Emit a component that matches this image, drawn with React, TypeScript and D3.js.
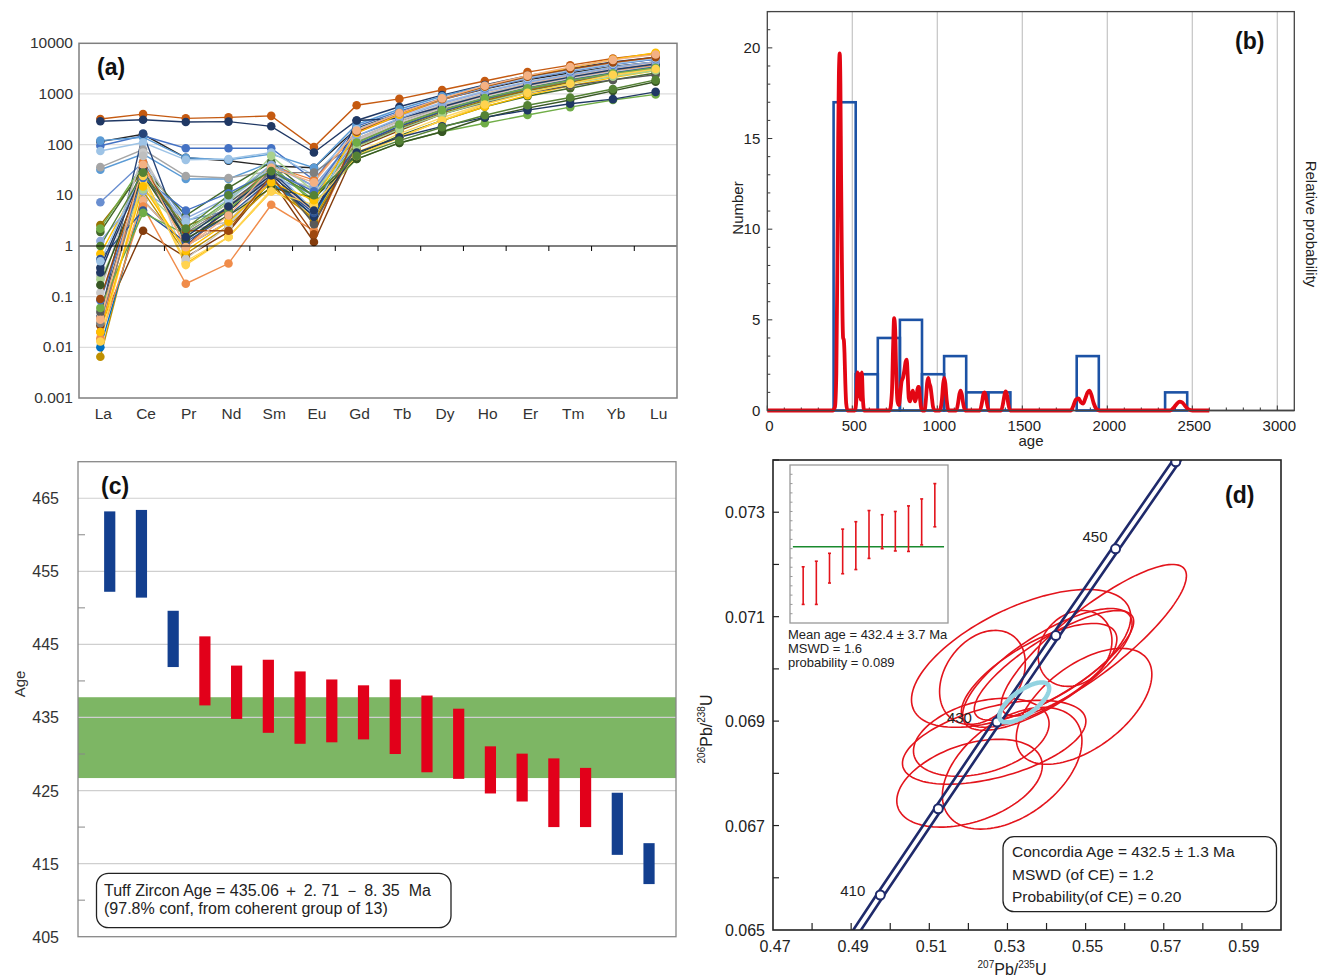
import React from 'react';
import * as d3 from 'd3';

const FONT = 'Arial, "Liberation Sans", Helvetica, sans-serif';

// ---------- (a) chondrite-normalised REE ----------
const elements = ['La', 'Ce', 'Pr', 'Nd', 'Sm', 'Eu', 'Gd', 'Tb', 'Dy', 'Ho', 'Er', 'Tm', 'Yb', 'Lu'];
const reeTicks = [10000, 1000, 100, 10, 1, 0.1, 0.01, 0.001];
const reeTickLabels = ['10000', '1000', '100', '10', '1', '0.1', '0.01', '0.001'];
const reeColors = [
  '#C55A11', '#203864', '#262626', '#4472C4', '#5B9BD5', '#9DC3E6', '#5B9BD5', '#A5A5A5',
  '#698ED0', '#264478', '#843C0C', '#997300', '#43682B', '#70AD47', '#FFC000', '#FFD966',
  '#BF9000', '#0070C0', '#F4B183', '#ED7D31', '#F08C4A', '#C9C9C9', '#BFBFBF', '#595959',
  '#7F7F7F', '#1F3864', '#2F5597', '#8FAADC', '#A9D18E', '#70AD47', '#375623', '#4472C4',
  '#9DC3E6', '#FFD34F', '#FFC000', '#9E480E', '#203864', '#F4B183', '#548235',
];
const reeSeries = [
  [320, 400, 330, 345, 370, 90, 600, 800, 1200, 1800, 2700, 3700, 5000, 6300],
  [290, 310, 280, 285, 230, 70, 300, 560, 950, 1500, 2300, 3200, 4300, 5300],
  [115, 160, 55, 48, 38, 35, 210, 420, 780, 1250, 1900, 2600, 3500, 4300],
  [95, 150, 85, 85, 85, 20, 230, 460, 820, 1350, 2050, 2900, 3900, 4900],
  [120, 140, 55, 50, 65, 35, 250, 500, 900, 1450, 2150, 3000, 4000, 4900],
  [75, 110, 50, 52, 70, 25, 180, 360, 680, 1150, 1750, 2450, 3400, 4300],
  [32, 65, 21, 21, 45, 15, 150, 310, 580, 980, 1550, 2150, 3000, 3800],
  [36, 80, 24, 22, 30, 12, 130, 290, 540, 930, 1450, 2050, 2800, 3600],
  [7.3, 45, 3.2, 5, 25, 10, 120, 260, 500, 850, 1350, 1900, 2600, 3400],
  [0.04, 165, 1.0, 6, 30, 5, 100, 230, 460, 780, 1250, 1750, 2450, 3200],
  [0.027, 2.0, 0.6, 1.9, 20, 1.2, 85, 190, 400, 720, 1150, 1650, 2350, 3050],
  [2.6, 30, 2.5, 5, 22, 3, 95, 210, 420, 740, 1200, 1700, 2400, 3150],
  [1.9, 35, 4, 14, 45, 9.5, 65, 150, 300, 560, 900, 1300, 1900, 2600],
  [2.2, 40, 2, 8, 40, 7, 52, 108, 180, 265, 385, 550, 760, 980],
  [0.7, 25, 0.45, 1.5, 12, 6, 60, 140, 300, 560, 950, 1450, 2100, 2900],
  [0.014, 20, 0.5, 1.5, 13, 4, 70, 165, 340, 640, 1050, 1600, 2300, 3050],
  [0.0065, 12, 0.7, 2.5, 15, 3.5, 90, 220, 450, 800, 1300, 1900, 2700, 3600],
  [0.01, 8, 1.0, 3, 18, 4, 110, 250, 500, 860, 1350, 1950, 2700, 3500],
  [0.038, 8, 1, 3, 20, 5, 130, 300, 600, 1020, 1600, 2300, 3250, 4200],
  [0.02, 45, 0.95, 5.5, 38, 20, 170, 380, 760, 1300, 2000, 2900, 4000, 5200],
  [0.015, 6, 0.18, 0.45, 6.5, 2, 120, 260, 520, 900, 1400, 2000, 2800, 3600],
  [0.12, 70, 0.55, 2.5, 25, 14, 120, 270, 520, 880, 1400, 2000, 2750, 3500],
  [0.26, 60, 2, 3, 25, 14, 130, 300, 600, 1000, 1550, 2200, 3050, 3900],
  [0.05, 30, 2, 7, 30, 2.7, 95, 210, 400, 680, 1050, 1450, 1900, 2400],
  [0.03, 25, 1.8, 6, 28, 28, 110, 250, 480, 800, 1250, 1800, 2500, 3200],
  [0.37, 35, 1.3, 5, 22, 3.8, 300, 330, 560, 950, 1500, 2150, 3000, 3900],
  [0.55, 5, 1.2, 4, 20, 4.5, 100, 230, 450, 800, 1300, 1900, 2600, 3400],
  [1.25, 12, 3.5, 9, 40, 15, 150, 330, 650, 1100, 1700, 2400, 3300, 4300],
  [0.22, 13, 2, 7, 60, 12, 90, 200, 400, 700, 1100, 1600, 2200, 2900],
  [0.06, 4.5, 1.7, 5, 35, 8, 110, 250, 480, 830, 1300, 1850, 2550, 3300],
  [0.17, 25, 1.4, 4, 14, 9, 52, 108, 180, 340, 525, 760, 1150, 1740],
  [0.085, 22, 5, 11, 30, 12, 180, 400, 780, 1300, 2000, 2800, 3800, 4900],
  [0.5, 30, 3, 8, 35, 5, 200, 420, 800, 1350, 2050, 2900, 3900, 5000],
  [0.013, 24, 0.42, 1.5, 12, 6.5, 60, 140, 300, 620, 1050, 1600, 2400, 3100],
  [0.02, 15, 0.8, 3, 18, 8, 170, 390, 800, 1400, 2250, 3300, 4800, 6500],
  [0.09, 35, 2, 2, 25, 1.7, 180, 420, 800, 1400, 2200, 3100, 4200, 5300],
  [0.3, 30, 1.5, 6, 25, 5, 70, 140, 230, 345, 480, 640, 790, 1100],
  [0.035, 40, 0.95, 4, 35, 18, 190, 420, 820, 1450, 2300, 3400, 4700, 6000],
  [1.0, 28, 2.2, 10, 30, 10, 60, 120, 220, 380, 600, 850, 1250, 1900],
];

// ---------- (b) detrital age histogram + PDP ----------
const binStart = [390, 520, 650, 780, 910, 1040, 1170, 1300, 1820, 2340];
const binCount = [17, 2, 4, 5, 2, 3, 1, 1, 3, 1];
const binWidth = 130;
const ageTicks = [0, 500, 1000, 1500, 2000, 2500, 3000];
const numberTicks = [0, 5, 10, 15, 20];
const pdpPoints = [
  [0, 0], [385, 0], [398, 0.2], [406, 2], [412, 8], [417, 15], [421, 18.5], [426, 19.7], [430, 18],
  [434, 13], [438, 9], [442, 5.5], [446, 4.0], [450, 3.9], [454, 3.2], [459, 1.5], [464, 0.4], [472, 0],
  [515, 0], [524, 0.6], [531, 2.1], [537, 0.8], [543, 2.0], [549, 0.6], [556, 2.1], [562, 0.7], [570, 0],
  [720, 0], [733, 1.0], [740, 3.5], [746, 5.1], [752, 4.5], [758, 2.2], [766, 0.5], [774, 0.3], [782, 0.9],
  [790, 1.6], [798, 1.8], [806, 2.2], [814, 2.7], [820, 2.8], [826, 1.9], [832, 0.7], [840, 0.5], [848, 0.9],
  [856, 1.1], [862, 0.8], [870, 0.5], [878, 0.8], [886, 1.3], [892, 1.3], [898, 0.7], [904, 0.2], [912, 0],
  [925, 0], [933, 0.6], [940, 1.5], [947, 1.8], [953, 1.5], [960, 1.3], [967, 0.8], [975, 0.2], [985, 0],
  [1015, 0], [1027, 0.6], [1035, 1.5], [1041, 1.8], [1047, 1.5], [1055, 0.6], [1066, 0],
  [1112, 0], [1122, 0.4], [1130, 0.9], [1137, 1.1], [1144, 0.9], [1152, 0.4], [1163, 0],
  [1250, 0], [1262, 0.4], [1271, 0.9], [1277, 1.0], [1284, 0.85], [1292, 0.4], [1303, 0],
  [1375, 0], [1387, 0.4], [1396, 0.9], [1402, 1.05], [1409, 0.9], [1417, 0.4], [1428, 0],
  [1785, 0], [1800, 0.25], [1815, 0.6], [1831, 0.67], [1845, 0.45], [1857, 0.38], [1870, 0.65],
  [1884, 1.0], [1894, 1.09], [1905, 0.9], [1920, 0.4], [1935, 0.1], [1953, 0],
  [2370, 0], [2390, 0.15], [2410, 0.38], [2425, 0.49], [2440, 0.45], [2458, 0.25], [2478, 0.06],
  [2500, 0], [2600, 0],
];

// ---------- (c) weighted ages ----------
const spotLow = [452.2, 451.4, 441.9, 436.65, 434.8, 432.9, 431.4, 431.6, 432.0, 430.0, 427.5, 426.6, 424.6, 423.5, 420.0, 420.0, 416.2, 412.2];
const spotHigh = [463.2, 463.4, 449.6, 446.1, 442.1, 442.9, 441.3, 440.2, 439.4, 440.2, 438.0, 436.2, 431.05, 430.05, 429.4, 428.1, 424.7, 417.8];
const spotCoherent = [0, 0, 0, 1, 1, 1, 1, 1, 1, 1, 1, 1, 1, 1, 1, 1, 0, 0];
const tuffAge = 435.06;
const tuffPlus = 2.71;
const tuffMinus = 8.35;
const ageAxisTicks = [405, 415, 425, 435, 445, 455, 465];

// ---------- (d) concordia ----------
const concAge = [400, 410, 420, 430, 440, 450, 460, 470];
const concX = [0.48281, 0.49746, 0.5123, 0.52731, 0.54237, 0.55766, 0.57307, 0.58864];
const concY = [0.064015, 0.06567, 0.067322, 0.068983, 0.070638, 0.0723, 0.073965, 0.075633];
const concLabelled = [410, 430, 450];
const ellX = [0.5521, 0.5496, 0.5473, 0.5335, 0.5236, 0.5402, 0.5419, 0.5381, 0.5266, 0.5203, 0.5312, 0.5233];
const ellY = [0.07055, 0.069283, 0.070392, 0.070201, 0.069837, 0.06999, 0.070067, 0.069876, 0.068595, 0.067811, 0.068098, 0.06869];
const ellSx = [0.0237, 0.01735, 0.00944, 0.02806, 0.01097, 0.02168, 0.0204, 0.0199, 0.02347, 0.01862, 0.01786, 0.01735];
const ellSy = [0.00145, 0.00111, 0.000727, 0.00132, 0.0009, 0.001166, 0.00105, 0.000994, 0.000803, 0.000841, 0.001166, 0.000746];
const ellRho = [0.85, 0.55, 0.2, 0.6, 0.3, 0.75, 0.8, 0.7, 0.5, 0.4, 0.45, 0.35];
const concordiaEll = { x: 0.5343, y: 0.069359, sx: 0.00638, sy: 0.000382, rho: 0.7 };
const pbxTicks = [0.47, 0.49, 0.51, 0.53, 0.55, 0.57, 0.59];
const pbyTicks = [0.065, 0.067, 0.069, 0.071, 0.073];
const insetLow = [420.0, 420.0, 424.6, 426.6, 427.5, 429.9, 432.0, 431.5, 431.4, 432.8, 436.7];
const insetHigh = [428.1, 429.3, 431.0, 436.2, 437.8, 440.2, 439.3, 440.0, 441.2, 442.7, 446.0];
const meanAge = 432.4;

// ---------- layout ----------
const A = { l: 79, r: 677, t: 43.3, b: 398 };
const B = { l: 767.3, r: 1294.3, t: 11.6, b: 410.5 };
const C = { l: 78, r: 676, t: 461.7, b: 936.7 };
const D = { l: 773, r: 1281, t: 460, b: 930 };
const I = { l: 790, r: 948, t: 465, b: 623 };

const xA = d3.scaleBand().domain(elements).range([A.l, A.r]);
const yA = d3.scaleLog().domain([0.001, 10000]).range([A.b, A.t]);
const xB = d3.scaleLinear().domain([0, 3100]).range([B.l, B.r]);
const yB = d3.scaleLinear().domain([0, 22]).range([B.b, B.t]);
const xC = d3.scaleLinear().domain([0, 18.85]).range([C.l, C.r]);
const yC = d3.scaleLinear().domain([405, 470]).range([C.b, C.t]);
const xD = d3.scaleLinear().domain([0.47, 0.6]).range([D.l, D.r]);
const yD = d3.scaleLinear().domain([0.065, 0.074]).range([D.b, D.t]);
const xI = d3.scaleLinear().domain([0, 12]).range([I.l, I.r]);
const yI = d3.scaleLinear().domain([416, 450]).range([I.b, I.t]);

const ellipsePath = (cx: number, cy: number, sx: number, sy: number, rho: number) => {
  const pts: [number, number][] = d3.range(0, 2 * Math.PI, Math.PI / 60).map((t) => [
    xD(cx + sx * Math.cos(t)),
    yD(cy + sy * (rho * Math.cos(t) + Math.sqrt(1 - rho * rho) * Math.sin(t))),
  ]);
  return d3.line().curve(d3.curveLinearClosed)(pts) as string;
};

function PanelA() {
  const cx = (e: string) => (xA(e) as number) + xA.bandwidth() / 2;
  const line = d3.line<number>().x((_, i) => cx(elements[i])).y((v) => yA(v));
  return (
    <g fontFamily={FONT}>
      {reeTicks.slice(1, -1).filter((t) => t !== 1).map((t) => (
        <line key={t} x1={A.l} x2={A.r} y1={yA(t)} y2={yA(t)} stroke="#dcdcdc" strokeWidth={1.3} />
      ))}
      {reeSeries.map((s, i) => (
        <path key={'l' + i} d={line(s) as string} fill="none" stroke={reeColors[i]} strokeWidth={1.4} />
      ))}
      {reeSeries.map((s, i) => (
        <g key={'p' + i} fill={reeColors[i]}>
          {s.map((v, j) => <circle key={j} cx={cx(elements[j])} cy={yA(v)} r={4.3} />)}
        </g>
      ))}
      <line x1={A.l} x2={A.r} y1={yA(1)} y2={yA(1)} stroke="#000" strokeWidth={1.2} />
      {elements.slice(1).map((e) => (
        <line key={e} x1={xA(e)} x2={xA(e)} y1={yA(1)} y2={yA(1) + 5} stroke="#000" strokeWidth={1} />
      ))}
      <rect x={A.l} y={A.t} width={A.r - A.l} height={A.b - A.t} fill="none" stroke="#7f7f7f" strokeWidth={1.5} />
      {reeTicks.map((t, i) => (
        <text key={t} x={A.l - 6} y={yA(t) + 5} textAnchor="end" fontSize={15.5} fill="#333">{reeTickLabels[i]}</text>
      ))}
      {elements.map((e) => (
        <text key={e} x={cx(e) + 3} y={419} textAnchor="middle" fontSize={15.5} fill="#333">{e}</text>
      ))}
      <text x={97} y={75} fontSize={23} fontWeight="bold" fill="#111">(a)</text>
    </g>
  );
}

function PanelB() {
  const line = d3.line<number[]>().x((d) => xB(d[0])).y((d) => yB(d[1])).curve(d3.curveMonotoneX);
  return (
    <g fontFamily={FONT}>
      {ageTicks.slice(1).map((t) => (
        <line key={t} x1={xB(t)} x2={xB(t)} y1={B.t} y2={B.b} stroke="#c4c4c4" strokeWidth={1.2} />
      ))}
      {d3.range(0, 3100, 100).map((t) => (
        <line key={'mx' + t} x1={xB(t)} x2={xB(t)} y1={B.b} y2={B.b - (t % 500 === 0 ? 5 : 3)} stroke="#333" strokeWidth={1} />
      ))}
      {d3.range(0, 23, 1).map((t) => (
        <line key={'my' + t} x1={B.l} x2={B.l + (t % 5 === 0 ? 5 : 3)} y1={yB(t)} y2={yB(t)} stroke="#333" strokeWidth={1} />
      ))}
      <line x1={B.l} x2={B.r} y1={B.b} y2={B.b} stroke="#111" strokeWidth={1.3} />
      {binStart.map((s, i) => (
        <rect key={s} x={xB(s)} y={yB(binCount[i])} width={xB(s + binWidth) - xB(s)} height={yB(0) - yB(binCount[i])}
          fill="none" stroke="#1c52a5" strokeWidth={2.6} />
      ))}
      <path d={line(pdpPoints) as string} fill="none" stroke="#e30613" strokeWidth={3.8} strokeLinejoin="round" />
      <rect x={B.l} y={B.t} width={B.r - B.l} height={B.b - B.t} fill="none" stroke="#444" strokeWidth={1.3} />
      {numberTicks.map((t) => (
        <text key={t} x={B.l - 7} y={yB(t) + 5} textAnchor="end" fontSize={15} fill="#222">{t}</text>
      ))}
      {ageTicks.map((t) => (
        <text key={t} x={xB(t) + 2} y={431} textAnchor="middle" fontSize={15} fill="#222">{t}</text>
      ))}
      <text x={1031} y={446} textAnchor="middle" fontSize={15} fill="#222">age</text>
      <text transform="translate(743,208) rotate(-90)" textAnchor="middle" fontSize={15} fill="#222">Number</text>
      <text transform="translate(1306,224) rotate(90)" textAnchor="middle" fontSize={15} fill="#222">Relative probability</text>
      <text x={1235} y={49} fontSize={23} fontWeight="bold" fill="#111">(b)</text>
    </g>
  );
}

function PanelC() {
  return (
    <g fontFamily={FONT}>
      <rect x={C.l} y={yC(tuffAge + tuffPlus)} width={C.r - C.l} height={yC(tuffAge - tuffMinus) - yC(tuffAge + tuffPlus)} fill="#7db664" />
      {ageAxisTicks.slice(1).map((t) => (
        <line key={t} x1={C.l} x2={C.r} y1={yC(t)} y2={yC(t)} stroke="#cfcfcf" strokeWidth={1.2} />
      ))}
      {ageAxisTicks.slice(1).map((t) => (
        <line key={'m' + t} x1={C.l} x2={C.l + 7} y1={yC(t - 5)} y2={yC(t - 5)} stroke="#888" strokeWidth={1} />
      ))}
      {spotLow.map((lo, i) => (
        <rect key={i} x={xC(i + 1) - 5.6} y={yC(spotHigh[i])} width={11.2} height={yC(lo) - yC(spotHigh[i])}
          fill={spotCoherent[i] ? '#e2001a' : '#133f8f'} />
      ))}
      <rect x={C.l} y={C.t} width={C.r - C.l} height={C.b - C.t} fill="none" stroke="#888" strokeWidth={1.3} />
      {ageAxisTicks.map((t) => (
        <text key={t} x={59} y={yC(t) + 6} textAnchor="end" fontSize={16} fill="#333">{t}</text>
      ))}
      <text transform="translate(25,684) rotate(-90)" textAnchor="middle" fontSize={15} fill="#333">Age</text>
      <text x={101} y={494} fontSize={23} fontWeight="bold" fill="#111">(c)</text>
      <rect x={96.5} y={873.3} width={354.5} height={54.4} rx={12} fill="#fff" stroke="#222" strokeWidth={1.3} />
      <text x={104} y={896} fontSize={16} fill="#222" style={{ whiteSpace: 'pre' }}>
        {`Tuff Zircon Age = ${tuffAge} ＋ 2. 71 － 8. 35  Ma`}
      </text>
      <text x={104} y={914} fontSize={16} fill="#222">(97.8% conf, from coherent group of 13)</text>
    </g>
  );
}

function PanelD() {
  const conc = (dx: number) =>
    d3.line<number>().x((_, i) => xD(concX[i] + dx)).y((_, i) => yD(concY[i]))(concAge) as string;
  const labelOffset: Record<number, [number, number]> = { 410: [-15, 1], 430: [-25, 1], 450: [-8, -7] };
  return (
    <g fontFamily={FONT}>
      <defs>
        <clipPath id="clipD"><rect x={D.l} y={D.t} width={D.r - D.l} height={D.b - D.t} /></clipPath>
      </defs>
      <g clipPath="url(#clipD)">
        {ellX.map((x, i) => (
          <path key={i} d={ellipsePath(x, ellY[i], ellSx[i], ellSy[i], ellRho[i])} fill="none" stroke="#e3141c" strokeWidth={1.6} />
        ))}
        <path d={conc(-0.001)} fill="none" stroke="#1f2a6b" strokeWidth={2.6} />
        <path d={conc(0.001)} fill="none" stroke="#1f2a6b" strokeWidth={2.6} />
        {concAge.map((a, i) => (
          <circle key={a} cx={xD(concX[i])} cy={yD(concY[i])} r={4.5} fill="#fff" stroke="#1f2a6b" strokeWidth={2} />
        ))}
        <path d={ellipsePath(concordiaEll.x, concordiaEll.y, concordiaEll.sx, concordiaEll.sy, concordiaEll.rho)}
          fill="none" stroke="#93d3e1" strokeWidth={4.5} />
      </g>
      {concLabelled.map((a) => {
        const i = concAge.indexOf(a);
        return (
          <text key={a} x={xD(concX[i]) + labelOffset[a][0]} y={yD(concY[i]) + labelOffset[a][1]} textAnchor="end" fontSize={15} fill="#222">{a}</text>
        );
      })}
      {d3.range(0.48, 0.6, 0.01).map((t) => (
        <line key={'tx' + t} x1={xD(t)} x2={xD(t)} y1={D.b} y2={D.b - 7} stroke="#222" strokeWidth={1.2} />
      ))}
      {d3.range(0.066, 0.0741, 0.001).map((t) => (
        <line key={'ty' + t} x1={D.l} x2={D.l + 6} y1={yD(t)} y2={yD(t)} stroke="#222" strokeWidth={1.2} />
      ))}
      <rect x={D.l} y={D.t} width={D.r - D.l} height={D.b - D.t} fill="none" stroke="#222" strokeWidth={1.6} />
      {pbxTicks.map((t) => (
        <text key={t} x={xD(t) + 2} y={952} textAnchor="middle" fontSize={16} fill="#222">{t.toFixed(2)}</text>
      ))}
      {pbyTicks.map((t) => (
        <text key={t} x={D.l - 8} y={yD(t) + 6} textAnchor="end" fontSize={16} fill="#222">{t.toFixed(3)}</text>
      ))}
      <text x={1012} y={975} textAnchor="middle" fill="#222">
        <tspan fontSize={10} dy={-7}>207</tspan><tspan fontSize={16} dy={7}>Pb/</tspan>
        <tspan fontSize={10} dy={-7}>235</tspan><tspan fontSize={16} dy={7}>U</tspan>
      </text>
      <text transform="translate(712,729) rotate(-90)" textAnchor="middle" fill="#222">
        <tspan fontSize={10} dy={-7}>206</tspan><tspan fontSize={16} dy={7}>Pb/</tspan>
        <tspan fontSize={10} dy={-7}>238</tspan><tspan fontSize={16} dy={7}>U</tspan>
      </text>
      <text x={1225} y={503} fontSize={23} fontWeight="bold" fill="#111">(d)</text>

      {/* inset weighted mean */}
      <rect x={I.l} y={I.t} width={I.r - I.l} height={I.b - I.t} fill="#fff" stroke="#999" strokeWidth={1.3} />
      {d3.range(418, 450, 2).map((t) => (
        <line key={'it' + t} x1={I.l} x2={I.l + 2.5} y1={yI(t)} y2={yI(t)} stroke="#999" strokeWidth={1} />
      ))}
      <line x1={xI(0.22)} x2={xI(11.7)} y1={yI(meanAge)} y2={yI(meanAge)} stroke="#1a8a2e" strokeWidth={1.5} />
      {insetLow.map((lo, i) => (
        <g key={i} stroke="#e3141c" strokeWidth={1.6}>
          <line x1={xI(i + 1)} x2={xI(i + 1)} y1={yI(lo)} y2={yI(insetHigh[i])} />
          <line x1={xI(i + 1) - 1.5} x2={xI(i + 1) + 1.5} y1={yI(lo)} y2={yI(lo)} />
          <line x1={xI(i + 1) - 1.5} x2={xI(i + 1) + 1.5} y1={yI(insetHigh[i])} y2={yI(insetHigh[i])} />
        </g>
      ))}
      <text x={788} y={639} fontSize={13} fill="#222">{`Mean age = ${meanAge} ± 3.7 Ma`}</text>
      <text x={788} y={653} fontSize={13} fill="#222">MSWD = 1.6</text>
      <text x={788} y={667} fontSize={13} fill="#222">probability = 0.089</text>

      <rect x={1003} y={836.7} width={273.5} height={75} rx={11} fill="#fff" stroke="#222" strokeWidth={1.3} />
      <text x={1012} y={857} fontSize={15.5} fill="#222">Concordia Age = 432.5 ± 1.3 Ma</text>
      <text x={1012} y={880} fontSize={15.5} fill="#222">MSWD (of CE) = 1.2</text>
      <text x={1012} y={902} fontSize={15.5} fill="#222">Probability(of CE) = 0.20</text>
    </g>
  );
}

export default function App() {
  return (
    <div style={{ position: 'absolute', left: 0, top: 0 }}>
      <svg width={1320} height={977} style={{ display: 'block', background: '#fff' }}>
        <PanelA />
        <PanelB />
        <PanelC />
        <PanelD />
      </svg>
    </div>
  );
}
